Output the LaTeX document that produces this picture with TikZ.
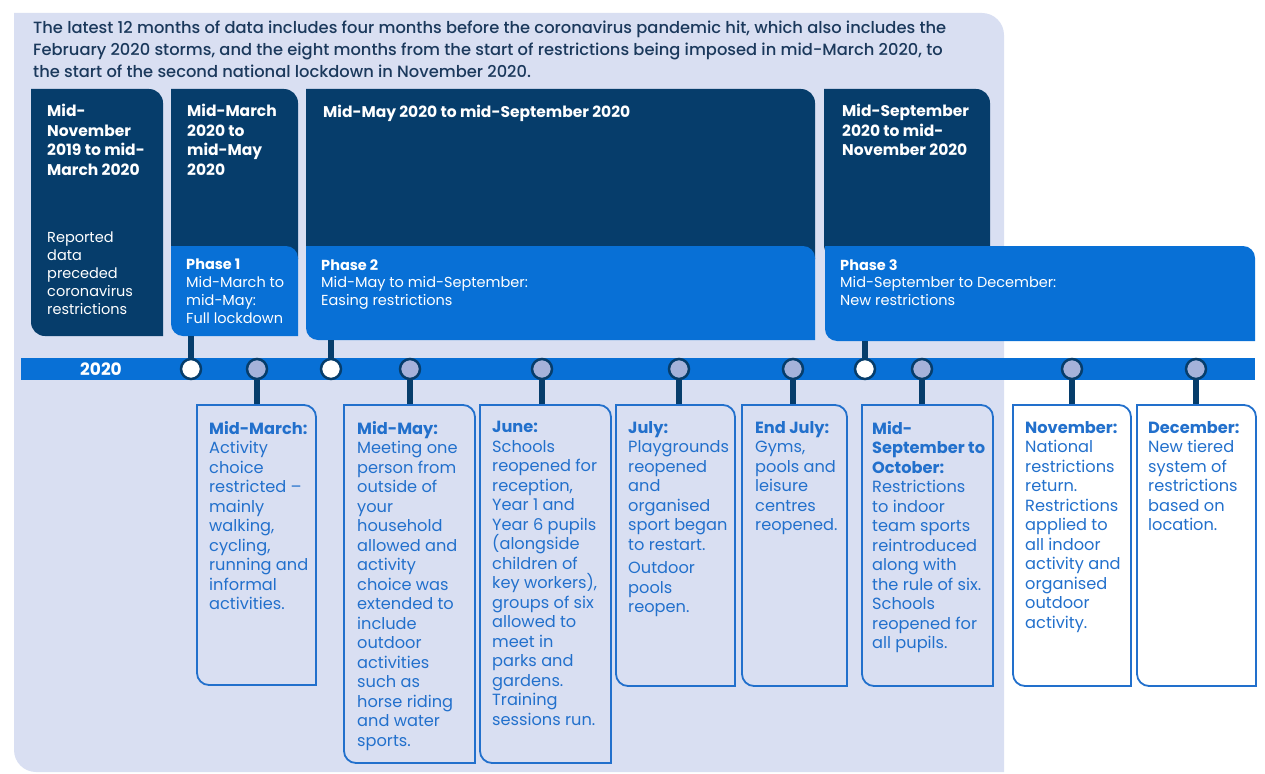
\documentclass[tikz,border=0pt]{standalone}
\usepackage{fontspec}
\setmainfont{Poppins}
\IfFontExistsTF{Poppins Medium}{\newfontfamily\introfont{Poppins Medium}}{\newfontfamily\introfont{Poppins}}
\definecolor{panel}{RGB}{217,223,242}
\definecolor{navy}{RGB}{6,61,107}
\definecolor{phaseblue}{RGB}{8,112,214}
\definecolor{eventblue}{RGB}{34,112,204}
\definecolor{titleblue}{RGB}{27,57,92}
\definecolor{dotgrey}{RGB}{165,178,218}
\newcommand\tabpath[2]{([yshift=#2]#1.south west) -- (#1.north west) -- ([xshift=-#2]#1.north east) arc[start angle=90,end angle=0,radius=#2] -- (#1.south east) -- ([xshift=#2]#1.south west) arc[start angle=270,end angle=180,radius=#2] -- cycle}
\tikzset{
  box/.style={anchor=north west, inner sep=0pt, outer sep=0pt},
  words/.style={anchor=north west, inner sep=0pt, align=left},
  titletext/.style={words, text=titleblue, font=\introfont\fontsize{16.3}{22}\selectfont},
  headtext/.style={words, text=white, font=\bfseries\fontsize{15.5}{19.5}\selectfont},
  phasetext/.style={words, text=white, font=\fontsize{14.5}{17.8}\selectfont},
  evtext/.style={words, text=eventblue, font=\fontsize{16.2}{19.5}\selectfont},
  evline/.style={draw=eventblue, line width=1.8pt},
  stem/.style={draw=navy, line width=6pt},
  dot/.style={circle, draw=navy, line width=2.5pt, fill=dotgrey, minimum size=20pt, inner sep=0pt}
}
\begin{document}
\begin{tikzpicture}[x=1pt, y=-1pt]
  \useasboundingbox (0,0) rectangle (1265,773);
  \node[box, minimum width=990pt, minimum height=759pt] (panel) at (14,13) {};
  \fill[panel] \tabpath{panel}{22pt};
  \node[titletext] (intro) at (33,21) {The latest 12 months of data includes four months before the coronavirus pandemic hit, which also includes the\\February 2020 storms, and the eight months from the start of restrictions being imposed in mid-March 2020, to\\the start of the second national lockdown in November 2020.};

  \node[box, minimum width=132pt, minimum height=247pt] (pre) at (31,89) {};
  \node[box, minimum width=127pt, minimum height=170pt] (lock) at (171,89) {};
  \node[box, minimum width=509pt, minimum height=170pt] (ease) at (306,89) {};
  \node[box, minimum width=166pt, minimum height=170pt] (autumn) at (824,89) {};
  \fill[navy] \tabpath{pre}{14pt};
  \fill[navy] \tabpath{lock}{14pt};
  \fill[navy] \tabpath{ease}{14pt};
  \fill[navy] \tabpath{autumn}{14pt};
  \node[headtext] (pretxt) at ([xshift=16pt,yshift=-15pt]pre.north west) {Mid-\\November\\2019 to mid-\\March 2020};
  \node[phasetext] (prenote) at ([xshift=16pt,yshift=-143pt]pre.north west) {Reported\\data\\preceded\\coronavirus\\restrictions};
  \node[headtext] (locktxt) at ([xshift=16pt,yshift=-15pt]lock.north west) {Mid-March\\2020 to\\mid-May\\2020};
  \node[headtext] (easetxt) at ([xshift=17pt,yshift=-16pt]ease.north west) {Mid-May 2020 to mid-September 2020};
  \node[headtext] (autumntxt) at ([xshift=18pt,yshift=-15pt]autumn.north west) {Mid-September\\2020 to mid-\\November 2020};

  \node[box, minimum width=127pt, minimum height=90pt] (phaseone) at (171,246) {};
  \node[box, minimum width=509pt, minimum height=94pt] (phasetwo) at (306,246) {};
  \node[box, minimum width=430pt, minimum height=95pt] (phasethree) at (825,246) {};
  \fill[phaseblue] \tabpath{phaseone}{12pt};
  \fill[phaseblue] \tabpath{phasetwo}{12pt};
  \fill[phaseblue] \tabpath{phasethree}{12pt};
  \node[phasetext] (phaseonetxt) at ([xshift=15pt,yshift=-13pt]phaseone.north west) {\textbf{Phase 1}\\Mid-March to\\mid-May:\\Full lockdown};
  \node[phasetext] (phasetwotxt) at ([xshift=15pt,yshift=-13pt]phasetwo.north west) {\textbf{Phase 2}\\Mid-May to mid-September:\\Easing restrictions};
  \node[phasetext] (phasethreetxt) at ([xshift=15pt,yshift=-13pt]phasethree.north west) {\textbf{Phase 3}\\Mid-September to December:\\New restrictions};

  \node[box, minimum width=1234pt, minimum height=22pt, fill=phaseblue] (bar) at (21,358) {};
  \node[text=white, font=\bfseries\fontsize{17}{20}\selectfont] (year) at (101,369) {2020};

  \node[box, minimum width=119pt, minimum height=280pt] (march) at (197,405) {};
  \node[box, minimum width=131pt, minimum height=358pt] (may) at (344,405) {};
  \node[box, minimum width=131pt, minimum height=358pt] (june) at (480,405) {};
  \node[box, minimum width=119pt, minimum height=281pt] (july) at (616,405) {};
  \node[box, minimum width=105pt, minimum height=281pt] (endjuly) at (742,405) {};
  \node[box, minimum width=131pt, minimum height=281pt] (sept) at (862,405) {};
  \node[box, minimum width=118pt, minimum height=281pt] (nov) at (1013,405) {};
  \node[box, minimum width=119pt, minimum height=281pt] (dec) at (1137,405) {};

  \node[dot, fill=white] (startone) at (191,369) {};
  \node[dot, fill=white] (starttwo) at (331,369) {};
  \node[dot, fill=white] (startthree) at (865,369) {};
  \node[dot] (marchdot) at (257,369) {};
  \node[dot] (maydot) at (410,369) {};
  \node[dot] (junedot) at (542,369) {};
  \node[dot] (julydot) at (679,369) {};
  \node[dot] (endjulydot) at (793,369) {};
  \node[dot] (septdot) at (922,369) {};
  \node[dot] (novdot) at (1072,369) {};
  \node[dot] (decdot) at (1196,369) {};

  \path[stem] (startone.north) -- (startone |- phaseone.south);
  \path[stem] (starttwo.north) -- (starttwo |- phasetwo.south);
  \path[stem] (startthree.north) -- (startthree |- phasethree.south);
  \path[stem] (marchdot.south) -- (marchdot |- march.north);
  \path[stem] (maydot.south) -- (maydot |- may.north);
  \path[stem] (junedot.south) -- (junedot |- june.north);
  \path[stem] (julydot.south) -- (julydot |- july.north);
  \path[stem] (endjulydot.south) -- (endjulydot |- endjuly.north);
  \path[stem] (septdot.south) -- (septdot |- sept.north);
  \path[stem] (novdot.south) -- (novdot |- nov.north);
  \path[stem] (decdot.south) -- (decdot |- dec.north);

  \draw[evline] \tabpath{march}{12pt};
  \draw[evline] \tabpath{may}{12pt};
  \draw[evline] \tabpath{june}{12pt};
  \draw[evline] \tabpath{july}{12pt};
  \draw[evline] \tabpath{endjuly}{12pt};
  \draw[evline] \tabpath{sept}{12pt};
  \draw[evline, fill=white] \tabpath{nov}{12pt};
  \draw[evline, fill=white] \tabpath{dec}{12pt};

  \node[evtext] (marchtxt) at ([xshift=12pt,yshift=-16pt]march.north west) {\textbf{Mid-March:}\\Activity\\choice\\restricted --\\mainly\\walking,\\cycling,\\running and\\informal\\activities.};
  \node[evtext] (maytxt) at ([xshift=13pt,yshift=-16pt]may.north west) {\textbf{Mid-May:}\\Meeting one\\person from\\outside of\\your\\household\\allowed and\\activity\\choice was\\extended to\\include\\outdoor\\activities\\such as\\horse riding\\and water\\sports.};
  \node[evtext] (junetxt) at ([xshift=12pt,yshift=-16pt]june.north west) {\textbf{June:}\\Schools\\reopened for\\reception,\\Year 1 and\\Year 6 pupils\\(alongside\\children of\\key workers),\\groups of six\\allowed to\\meet in\\parks and\\gardens.\\Training\\sessions run.};
  \node[evtext] (julytxt) at ([xshift=12pt,yshift=-16pt]july.north west) {\textbf{July:}\\Playgrounds\\reopened\\and\\organised\\sport began\\to restart.\\[4pt]Outdoor\\pools\\reopen.};
  \node[evtext] (endjulytxt) at ([xshift=13pt,yshift=-16pt]endjuly.north west) {\textbf{End July:}\\Gyms,\\pools and\\leisure\\centres\\reopened.};
  \node[evtext] (septtxt) at ([xshift=10pt,yshift=-16pt]sept.north west) {\textbf{Mid-}\\\textbf{September to}\\\textbf{October:}\\Restrictions\\to indoor\\team sports\\reintroduced\\along with\\the rule of six.\\Schools\\reopened for\\all pupils.};
  \node[evtext] (novtxt) at ([xshift=12pt,yshift=-16pt]nov.north west) {\textbf{November:}\\National\\restrictions\\return.\\Restrictions\\applied to\\all indoor\\activity and\\organised\\outdoor\\activity.};
  \node[evtext] (dectxt) at ([xshift=11pt,yshift=-16pt]dec.north west) {\textbf{December:}\\New tiered\\system of\\restrictions\\based on\\location.};
\end{tikzpicture}
\end{document}
